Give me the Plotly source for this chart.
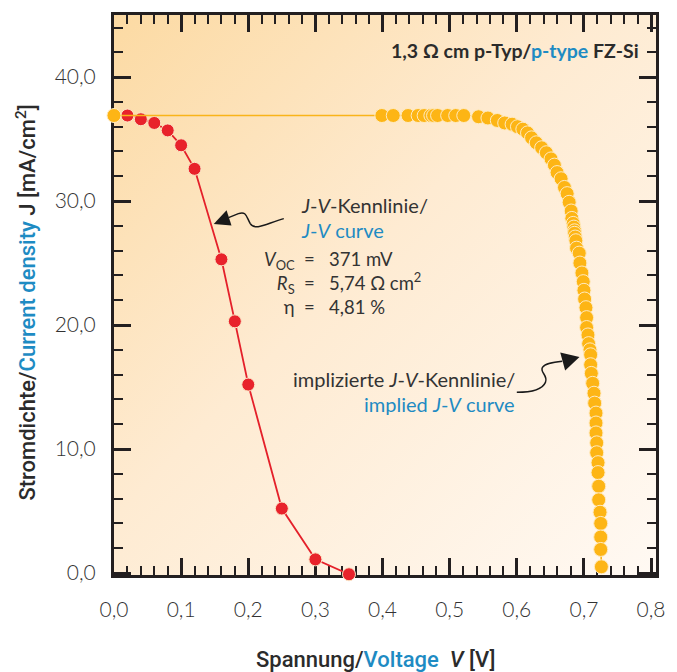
import base64
import plotly.graph_objects as go

# ---------------- data ----------------
red_v = [0.00, 0.02, 0.04, 0.06, 0.08, 0.10, 0.12, 0.16, 0.18, 0.20, 0.25, 0.30, 0.35]
red_j = [36.9, 36.9, 36.6, 36.3, 35.7, 34.5, 32.6, 25.3, 20.3, 15.2, 5.2, 1.1, -0.1]

orange_v = [0.000, 0.399, 0.416, 0.438, 0.453, 0.462, 0.472, 0.476, 0.482, 0.497,
            0.509, 0.521, 0.543, 0.557, 0.571, 0.582, 0.593, 0.601, 0.609, 0.616,
            0.622, 0.629, 0.637, 0.644, 0.651, 0.656, 0.660, 0.666, 0.671, 0.675,
            0.678, 0.681, 0.682, 0.684, 0.685, 0.686, 0.686, 0.687, 0.688, 0.689,
            0.693, 0.694, 0.697, 0.699, 0.700, 0.701, 0.703, 0.704, 0.704, 0.706,
            0.707, 0.709, 0.710, 0.710, 0.711, 0.713, 0.715, 0.716, 0.718, 0.718,
            0.718, 0.719, 0.719, 0.721, 0.721, 0.722, 0.722, 0.724, 0.725, 0.725,
            0.725, 0.726]
orange_j = [36.9, 36.9, 36.9, 36.9, 36.9, 36.9, 36.9, 36.9, 36.9, 36.9,
            36.9, 36.9, 36.8, 36.7, 36.5, 36.3, 36.2, 36.0, 35.8, 35.5,
            35.1, 34.7, 34.3, 33.9, 33.4, 32.9, 32.3, 31.8, 31.1, 30.6,
            29.9, 29.2, 28.6, 28.2, 27.9, 27.6, 27.4, 27.1, 26.8, 26.2,
            25.8, 25.0, 24.2, 23.5, 22.8, 22.1, 21.4, 20.6, 19.8, 19.2,
            18.5, 18.0, 17.6, 16.8, 16.1, 15.3, 14.5, 13.7, 12.9, 12.1,
            11.3, 10.5, 9.7, 8.9, 8.1, 7.0, 5.9, 4.9, 4.0, 2.9,
            1.9, 0.5]

x_ticks = [0.0, 0.1, 0.2, 0.3, 0.4, 0.5, 0.6, 0.7, 0.8]
y_ticks = [0.0, 10.0, 20.0, 30.0, 40.0]

param_labels = ["<i>V</i><sub>OC</sub>", "<i>R</i><sub>S</sub>", "η"]
param_values = ["371 mV", "5,74 Ω cm<sup>2</sup>", "4,81 %"]

# ---------------- styling ----------------
W, H = 677, 672
L, R, T, B = 114, 14, 14, 97
PW, PH = W - L - R, H - T - B
Y0PX = 573            # pixel row of J = 0
PXPERJ = 12.42
PXPERV = 680.0
BLUE = "#1E8BC3"
DARK = "#2b2b2b"
AX = "#231F20"
BODY_FONT = "Lato"
COND_FONT = "Roboto"


def px(xp):
    return (xp - L) / PW


def py(yp):
    return (H - B - yp) / PH


def path(pts, close=False):
    s = ""
    for cmd, coords in pts:
        s += cmd + " " + " ".join(f"{px(a):.4f},{py(b):.4f}" for a, b in coords) + " "
    if close:
        s += "Z"
    return s


fig = go.Figure()

fig.add_trace(go.Scatter(
    x=red_v, y=red_j, mode="lines+markers", cliponaxis=False,
    line=dict(color="#E4202A", width=1.8),
    marker=dict(size=13, color="#E8222B", line=dict(color="#FCE6C6", width=1)),
    showlegend=False, hoverinfo="skip"))

fig.add_trace(go.Scatter(
    x=orange_v, y=orange_j, mode="lines+markers", cliponaxis=False,
    line=dict(color="#F9B41A", width=1.6),
    marker=dict(size=14, color="#FDB515", line=dict(color="#FFEBC2", width=1)),
    showlegend=False, hoverinfo="skip"))

svg = ('<svg xmlns="http://www.w3.org/2000/svg" width="100" height="100" viewBox="0 0 100 100" '
       'preserveAspectRatio="none"><defs><linearGradient id="g" x1="0" y1="0" x2="1" y2="1">'
       '<stop offset="0" stop-color="#FCDAA3"/><stop offset="0.45" stop-color="#FEEBD2"/>'
       '<stop offset="1" stop-color="#FFF9F3"/></linearGradient></defs>'
       '<rect width="100" height="100" fill="url(#g)"/></svg>')
src = "data:image/svg+xml;base64," + base64.b64encode(svg.encode()).decode()

axis_common = dict(
    showline=True, linewidth=3, linecolor=AX, mirror="ticks",
    ticks="inside", ticklen=17, tickwidth=3, tickcolor=AX,
    showgrid=False, zeroline=False, layer="below traces",
    tickfont=dict(family=BODY_FONT, size=21, color="#333333", weight=300),
)

y_lo = -(H - B - Y0PX) / PXPERJ
fig.update_layout(
    width=W, height=H,
    margin=dict(l=L, r=R, t=T, b=B),
    paper_bgcolor="white", plot_bgcolor="rgba(0,0,0,0)",
    separators=",.",
    images=[dict(source=src, xref="paper", yref="paper", x=0, y=1, sizex=1, sizey=1,
                 xanchor="left", yanchor="top", sizing="stretch", layer="below")],
    xaxis=dict(range=[0, PW / PXPERV], tickvals=x_ticks, tickformat=".1f",
               ticklabelstandoff=14,
               minor=dict(dtick=0.02, tick0=0, ticks="inside", ticklen=9, tickwidth=2, tickcolor=AX),
               **axis_common),
    yaxis=dict(range=[y_lo, y_lo + PH / PXPERJ], tickvals=y_ticks, tickformat=".1f",
               ticklabelstandoff=11,
               minor=dict(dtick=2, tick0=0, ticks="inside", ticklen=9, tickwidth=2, tickcolor=AX),
               **axis_common),
)

ann = []
# axis titles
ann.append(dict(x=px(25), y=py(302), xref="paper", yref="paper", textangle=-90,
                text=f"Stromdichte/<span style='color:{BLUE}'>Current density</span> J [mA/cm<sup>2</sup>]",
                font=dict(family=COND_FONT, size=22, color=DARK, weight=500),
                showarrow=False, xanchor="center", yanchor="middle"))
ann.append(dict(x=px(379), y=py(660), xref="paper", yref="paper",
                text=f"Spannung/<span style='color:{BLUE}'>Voltage</span>  <i>V</i> [V]",
                font=dict(family=COND_FONT, size=22, color=DARK, weight=500),
                showarrow=False, xanchor="center", yanchor="middle"))
# header
ann.append(dict(x=px(648), y=py(50), xref="paper", yref="paper",
                text=f"1,3 Ω cm p-Typ/<span style='color:{BLUE}'>p-type</span> FZ-Si",
                font=dict(family=BODY_FONT, size=19.5, color=DARK, weight="bold"),
                showarrow=False, xanchor="right", yanchor="middle"))
body = dict(family=BODY_FONT, size=20, color="#333333")
ann.append(dict(x=px(301), y=py(204), xref="paper", yref="paper",
                text="<i>J</i>-<i>V</i>-Kennlinie/", font=body,
                showarrow=False, xanchor="left", yanchor="middle"))
ann.append(dict(x=px(301), y=py(229), xref="paper", yref="paper",
                text=f"<span style='color:{BLUE}'><i>J</i>-<i>V</i> curve</span>", font=body,
                showarrow=False, xanchor="left", yanchor="middle"))
block = dict(family=BODY_FONT, size=18.5, color="#333333")
ann.append(dict(x=px(299), y=py(282), xref="paper", yref="paper",
                text="<br>".join(param_labels), font=block, align="right",
                showarrow=False, xanchor="right", yanchor="middle"))
ann.append(dict(x=px(312), y=py(282), xref="paper", yref="paper",
                text="<br>".join(["="] * len(param_labels)), font=block, align="center",
                showarrow=False, xanchor="center", yanchor="middle"))
ann.append(dict(x=px(330), y=py(282), xref="paper", yref="paper",
                text="<br>".join(param_values), font=block, align="left",
                showarrow=False, xanchor="left", yanchor="middle"))
ann.append(dict(x=px(522), y=py(379), xref="paper", yref="paper",
                text="implizierte <i>J</i>-<i>V</i>-Kennlinie/", font=body,
                showarrow=False, xanchor="right", yanchor="middle"))
ann.append(dict(x=px(522), y=py(404), xref="paper", yref="paper",
                text=f"<span style='color:{BLUE}'>implied <i>J</i>-<i>V</i> curve</span>", font=body,
                showarrow=False, xanchor="right", yanchor="middle"))
fig.update_layout(annotations=ann)

shapes = []
# arrow 1 (to J-V curve)
shapes.append(dict(type="path", xref="paper", yref="paper", line=dict(color="#1a1a1a", width=1.5),
                   path=path([("M", [(286, 218)]),
                              ("C", [(270, 222), (257, 231), (252, 223)]),
                              ("C", [(248, 216), (248, 210), (240, 213)]),
                              ("L", [(230, 217)])])))
shapes.append(dict(type="path", xref="paper", yref="paper", line=dict(width=0),
                   fillcolor="#1a1a1a",
                   path=path([("M", [(215, 223.5)]), ("L", [(228, 209.5)]), ("L", [(233, 225)])], close=True)))
# arrow 2 (to implied J-V curve)
shapes.append(dict(type="path", xref="paper", yref="paper", line=dict(color="#1a1a1a", width=1.5),
                   path=path([("M", [(522, 392)]),
                              ("C", [(536, 392), (548, 389), (551, 382)]),
                              ("C", [(554, 375), (545, 372), (548, 367)]),
                              ("C", [(551, 363), (558, 362), (568, 361)])])))
shapes.append(dict(type="path", xref="paper", yref="paper", line=dict(width=0),
                   fillcolor="#1a1a1a",
                   path=path([("M", [(585.5, 356.5)]), ("L", [(566, 352)]), ("L", [(571, 370)])], close=True)))
fig.update_layout(shapes=shapes)

fig.write_html("out.html")
